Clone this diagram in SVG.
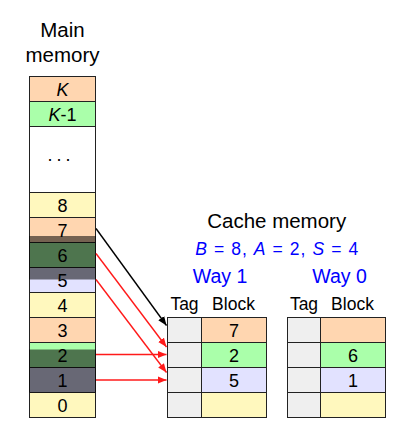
<svg xmlns="http://www.w3.org/2000/svg" width="401" height="421" viewBox="0 0 401 421">
<defs>
<style>
text{font-family:"Liberation Sans",Arial,sans-serif;fill:#000}
.title{font-size:20.5px;text-anchor:middle}
.num{font-size:18px;text-anchor:middle}
.lbl{font-size:17.5px;text-anchor:middle}
.way{font-size:19.5px;text-anchor:middle}
.blue{fill:#0000FF}
.cell{stroke:#222;stroke-width:1}
.peach{fill:#FFD6B0}
.green{fill:#AAFFAA}
.yellow{fill:#FFF8BE}
.lav{fill:#E2E2FF}
.white{fill:#FFFFFF}
.tag{fill:#EFEFEF}
.shade{fill:#000;fill-opacity:0.54}
.ar{fill:none;stroke-width:1.4}
</style>
<marker id="ahk" markerWidth="10" markerHeight="8" refX="9" refY="4" orient="auto" markerUnits="userSpaceOnUse"><path d="M0,0.4 L9,4 L0,7.6 z" fill="#000"/></marker>
<marker id="ahr" markerWidth="10" markerHeight="8" refX="9" refY="4" orient="auto" markerUnits="userSpaceOnUse"><path d="M0,0.4 L9,4 L0,7.6 z" fill="#FF1A1A"/></marker>
</defs>
<rect width="401" height="421" fill="#fff"/>

<g id="main-memory-title">
<text class="title" x="62.5" y="36.5">Main</text>
<text class="title" x="62.5" y="62">memory</text>
</g>

<g id="main-memory">
<g id="mem-K"><rect class="cell peach" x="29.5" y="76.5" width="66" height="25"/><text class="num" x="62.5" y="96" font-style="italic">K</text></g>
<g id="mem-K-1"><rect class="cell green" x="29.5" y="101.5" width="66" height="25"/><text class="num" x="62.5" y="121"><tspan font-style="italic">K</tspan>-1</text></g>
<g id="mem-dots"><rect class="cell white" x="29.5" y="126.5" width="66" height="66"/><text class="num" x="61" y="161" letter-spacing="4">...</text></g>
<g id="mem-8"><rect class="cell yellow" x="29.5" y="192.5" width="66" height="25"/></g>
<g id="mem-7"><rect class="cell peach" x="29.5" y="217.5" width="66" height="25"/></g>
<g id="mem-6"><rect class="cell green" x="29.5" y="242.5" width="66" height="25"/></g>
<g id="mem-5"><rect class="cell lav" x="29.5" y="267.5" width="66" height="25"/></g>
<g id="mem-4"><rect class="cell yellow" x="29.5" y="292.5" width="66" height="25"/></g>
<g id="mem-3"><rect class="cell peach" x="29.5" y="317.5" width="66" height="25"/></g>
<g id="mem-2"><rect class="cell green" x="29.5" y="342.5" width="66" height="25"/></g>
<g id="mem-1"><rect class="cell lav" x="29.5" y="367.5" width="66" height="25"/></g>
<g id="mem-0"><rect class="cell yellow" x="29.5" y="392.5" width="66" height="25"/></g>
<g id="mem-highlight">
<rect class="shade" x="29" y="236" width="67" height="43.5"/>
<rect class="shade" x="29" y="349.5" width="67" height="43"/>
</g>
<g id="mem-labels">
<text class="num" x="62.5" y="212">8</text>
<text class="num" x="62.5" y="237">7</text>
<text class="num" x="62.5" y="262">6</text>
<text class="num" x="62.5" y="287">5</text>
<text class="num" x="62.5" y="312">4</text>
<text class="num" x="62.5" y="337">3</text>
<text class="num" x="62.5" y="362">2</text>
<text class="num" x="62.5" y="387">1</text>
<text class="num" x="62.5" y="412">0</text>
</g>
</g>

<g id="cache-title">
<text class="title" x="276.7" y="228.3">Cache memory</text>
<text class="lbl blue" x="276.7" y="255" textLength="163" lengthAdjust="spacing"><tspan font-style="italic">B</tspan> = 8, <tspan font-style="italic">A</tspan> = 2, <tspan font-style="italic">S</tspan> = 4</text>
</g>

<g id="way1">
<text class="way blue" x="220" y="283.3">Way 1</text>
<text class="lbl" x="184.5" y="310">Tag</text>
<text class="lbl" x="233.5" y="310">Block</text>
<rect class="cell tag" x="167.5" y="317.5" width="34" height="25"/>
<rect class="cell tag" x="167.5" y="342.5" width="34" height="25"/>
<rect class="cell tag" x="167.5" y="367.5" width="34" height="25"/>
<rect class="cell tag" x="167.5" y="392.5" width="34" height="25"/>
<rect class="cell peach" x="201.5" y="317.5" width="65" height="25"/>
<rect class="cell green" x="201.5" y="342.5" width="65" height="25"/>
<rect class="cell lav" x="201.5" y="367.5" width="65" height="25"/>
<rect class="cell yellow" x="201.5" y="392.5" width="65" height="25"/>
<text class="num" x="234" y="337">7</text>
<text class="num" x="234" y="362">2</text>
<text class="num" x="234" y="387">5</text>
</g>

<g id="way0">
<text class="way blue" x="339.5" y="283.3">Way 0</text>
<text class="lbl" x="304" y="310">Tag</text>
<text class="lbl" x="352.5" y="310">Block</text>
<rect class="cell tag" x="287.5" y="317.5" width="33" height="25"/>
<rect class="cell tag" x="287.5" y="342.5" width="33" height="25"/>
<rect class="cell tag" x="287.5" y="367.5" width="33" height="25"/>
<rect class="cell tag" x="287.5" y="392.5" width="33" height="25"/>
<rect class="cell peach" x="320.5" y="317.5" width="65" height="25"/>
<rect class="cell green" x="320.5" y="342.5" width="65" height="25"/>
<rect class="cell lav" x="320.5" y="367.5" width="65" height="25"/>
<rect class="cell yellow" x="320.5" y="392.5" width="65" height="25"/>
<text class="num" x="353" y="362">6</text>
<text class="num" x="353" y="387">1</text>
</g>

<g id="connectors">
<line class="ar" x1="96" y1="228.5" x2="166.5" y2="325.5" stroke="#000" marker-end="url(#ahk)"/>
<line class="ar" x1="96" y1="253.5" x2="166.5" y2="347" stroke="#FF1A1A" marker-end="url(#ahr)"/>
<line class="ar" x1="96" y1="279.5" x2="166.5" y2="372.5" stroke="#FF1A1A" marker-end="url(#ahr)"/>
<line class="ar" x1="96" y1="354.5" x2="166.5" y2="354.5" stroke="#FF1A1A" marker-end="url(#ahr)"/>
<line class="ar" x1="96" y1="380" x2="166.5" y2="380" stroke="#FF1A1A" marker-end="url(#ahr)"/>
</g>
</svg>
